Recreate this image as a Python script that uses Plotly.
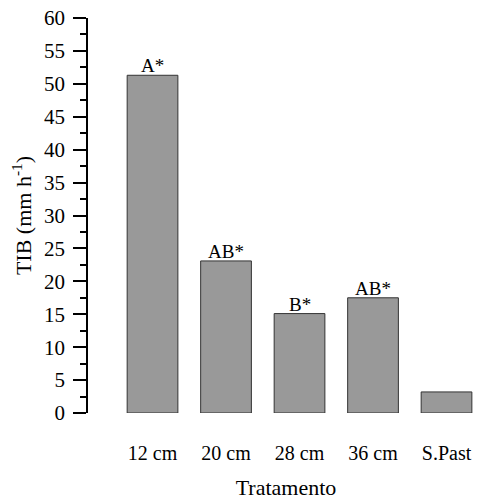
import plotly.graph_objects as go

categories = ["12 cm", "20 cm", "28 cm", "36 cm", "S.Past"]
values = [51.3, 23.1, 15.1, 17.5, 3.2]
letters = ["A*", "AB*", "B*", "AB*", ""]

font_family = "Liberation Serif, Times New Roman, serif"

fig = go.Figure(
    go.Bar(
        x=categories,
        y=values,
        marker=dict(color="#999999", line=dict(color="#333333", width=1)),
        width=0.69,
        cliponaxis=False,
    )
)

for cat, val, lab in zip(categories, values, letters):
    if lab:
        fig.add_annotation(
            x=cat, y=val, text=lab, showarrow=False, yanchor="bottom", yshift=-3,
            font=dict(family=font_family, size=19, color="black"),
        )

fig.update_layout(
    width=484,
    height=500,
    margin=dict(l=88, r=0, t=18, b=87),
    plot_bgcolor="white",
    paper_bgcolor="white",
    font=dict(family=font_family, size=20, color="black"),
    showlegend=False,
)

fig.update_xaxes(
    type="category",
    range=[-0.878, 4.51],
    showline=False,
    showgrid=False,
    ticks="",
    automargin=False,
    ticklabelstandoff=26,
    ticklabeloverflow="allow",
    tickfont=dict(family=font_family, size=20),
    title=dict(text="Tratamento", font=dict(family=font_family, size=22), standoff=21),
)

fig.update_yaxes(
    range=[0, 60],
    dtick=5,
    tick0=0,
    showline=True,
    linecolor="black",
    linewidth=1.5,
    showgrid=False,
    zeroline=False,
    automargin=False,
    ticks="outside",
    ticklen=13,
    tickwidth=1.5,
    tickcolor="black",
    ticklabelstandoff=4,
    ticklabeloverflow="allow",
    minor=dict(dtick=2.5, ticks="outside", ticklen=6, tickwidth=1.5, tickcolor="black", showgrid=False),
    tickfont=dict(family=font_family, size=21),
    title=dict(text="TIB (mm h<sup>-1</sup>)", font=dict(family=font_family, size=22), standoff=6),
)

fig.write_html(
    "out.html",
    config={"displayModeBar": False},
    post_script="document.body.style.margin='0';document.body.style.overflow='hidden';",
)
